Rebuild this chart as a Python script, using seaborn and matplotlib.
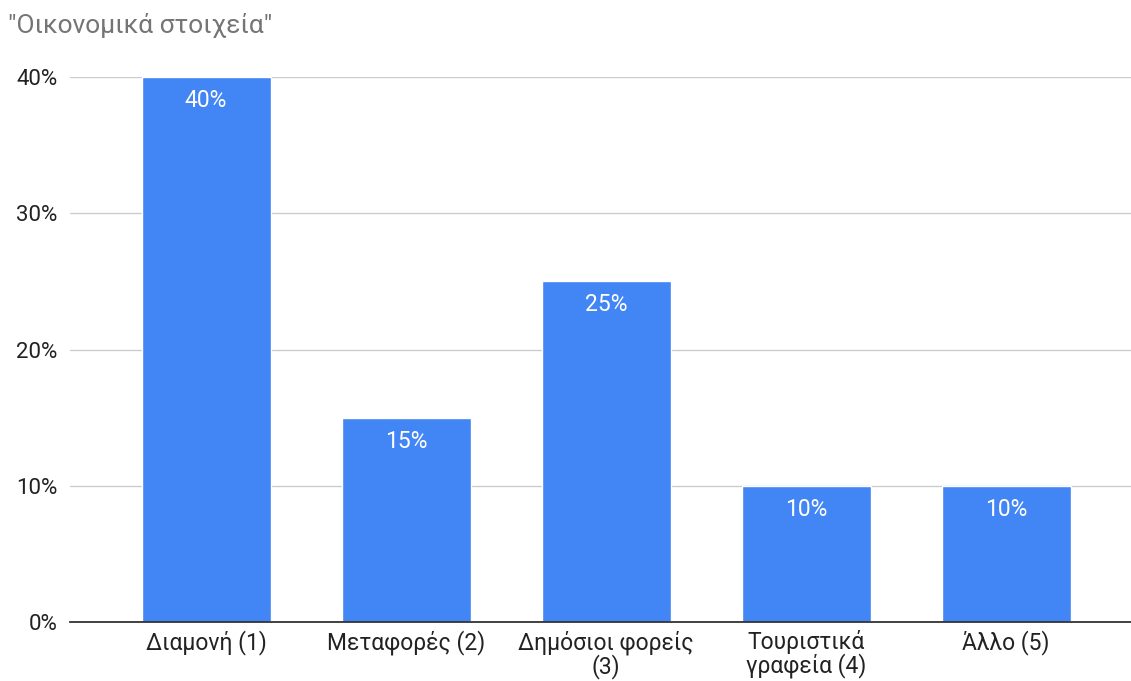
import matplotlib
matplotlib.use("Agg")
import matplotlib.pyplot as plt
import seaborn as sns
import pandas as pd
from matplotlib.ticker import FuncFormatter

categories = ["Διαμονή (1)", "Μεταφορές (2)", "Δημόσιοι φορείς\n(3)",
              "Τουριστικά\nγραφεία (4)", "Άλλο (5)"]
values = [40, 15, 25, 10, 10]
y_ticks = [0, 10, 20, 30, 40]
title = "\"Οικονομικά στοιχεία\""

sns.set_theme(style="white")
plt.rcParams["font.family"] = ["Roboto", "DejaVu Sans"]

df = pd.DataFrame({"cat": categories, "val": values})

fig = plt.figure(figsize=(11.31, 6.81), dpi=100)
ax = fig.add_axes([70 / 1131, 1 - 622 / 681, 1 - 70 / 1131, (622 - 77) / 681])

sns.barplot(data=df, x="cat", y="val", color="#4285F4", width=0.645,
            saturation=1, ax=ax, zorder=3)

ax.set_xlim(-0.68, 4.625)
ax.set_ylim(0, 40)
ax.set_yticks(y_ticks)
ax.yaxis.set_major_formatter(FuncFormatter(lambda v, _: f"{v:.0f}%"))
ax.grid(axis="y", color="#cccccc", linewidth=1, zorder=0)
ax.set_axisbelow(True)

for s in ["top", "right", "left"]:
    ax.spines[s].set_visible(False)
ax.spines["bottom"].set_color("#333333")
ax.spines["bottom"].set_linewidth(1.3)
ax.spines["bottom"].set_zorder(4)

ax.tick_params(axis="both", length=0, colors="#222222")
ax.tick_params(axis="y", pad=9, labelsize=16)
ax.tick_params(axis="x", pad=6, labelsize=16.5)
for lbl in ax.get_xticklabels():
    lbl.set_linespacing(0.95)
ax.set_xlabel("")
ax.set_ylabel("")

for i, v in enumerate(values):
    ax.annotate(f"{v}%", xy=(i, v), xytext=(0, -17), textcoords="offset points",
                ha="center", va="center", color="white", fontsize=16.5,
                zorder=5)

fig.text(8 / 1131, 1 - 26 / 681, title, ha="left", va="center",
         fontsize=19, color="#757575")

fig.savefig("out.png", dpi=100)
